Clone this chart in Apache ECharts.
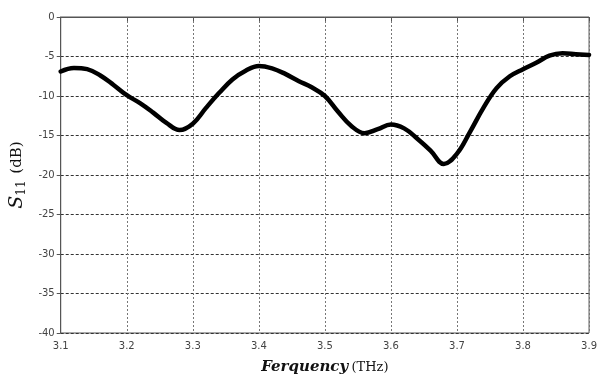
<!DOCTYPE html>
<html>
<head>
<meta charset="utf-8">
<script src="https://cdn.jsdelivr.net/npm/echarts@6/dist/echarts.min.js"></script>
<style>
  html, body { margin: 0; padding: 0; background: #fff; }
  #chart { width: 600px; height: 380px; }
</style>
</head>
<body>
<div id="chart"></div>
<script>
// frequency (THz) and S11 (dB)
const freq = [3.10, 3.12, 3.14, 3.16, 3.18, 3.20, 3.22, 3.24, 3.26, 3.28,
  3.30, 3.32, 3.34, 3.36, 3.38, 3.40, 3.42, 3.44, 3.46, 3.48,
  3.50, 3.52, 3.54, 3.56, 3.58, 3.60, 3.62, 3.64, 3.66, 3.68,
  3.70, 3.72, 3.74, 3.76, 3.78, 3.80, 3.82, 3.84, 3.86, 3.88, 3.90];
const s11 = [-6.9, -6.45, -6.6, -7.4, -8.6, -9.9, -10.9, -12.1, -13.4, -14.3,
  -13.5, -11.5, -9.6, -7.9, -6.8, -6.2, -6.5, -7.2, -8.1, -8.9,
  -10.0, -12.0, -13.8, -14.7, -14.2, -13.6, -14.1, -15.4, -16.9, -18.6,
  -17.3, -14.5, -11.5, -9.0, -7.5, -6.6, -5.8, -4.9, -4.6, -4.7, -4.8];

const yTicks = { min: -40, max: 0, step: 5 };
const xTicks = { min: 3.1, max: 3.9, step: 0.1 };

const chart = echarts.init(document.getElementById("chart"));

const labelFont = {
  color: "#444",
  fontFamily: "DejaVu Sans",
  fontSize: 10,
};

const option = {
  animation: false,
  backgroundColor: "#fff",
  grid: {
    left: 60,
    right: 9,
    top: 17,
    bottom: 43,
    show: true,
    borderColor: "#555",
    borderWidth: 1,
  },
  xAxis: {
    type: "value",
    min: xTicks.min,
    max: xTicks.max,
    interval: xTicks.step,
    name: "{b|Ferquency} {n|(THz)}",
    nameLocation: "middle",
    nameGap: 27,
    nameTextStyle: {
      rich: {
        b: { fontFamily: "DejaVu Serif", fontStyle: "italic", fontWeight: "bold", fontSize: 15, color: "#111" },
        n: { fontFamily: "DejaVu Serif", fontSize: 13, color: "#111" },
      },
    },
    axisLine: { lineStyle: { color: "#555", width: 1 } },
    axisTick: { show: true, length: 4, lineStyle: { color: "#555" } },
    axisLabel: Object.assign({ margin: 8, formatter: (v) => v.toFixed(1) }, labelFont),
    splitLine: { show: true, lineStyle: { color: "#777", type: [2, 2], width: 1 } },
  },
  yAxis: {
    type: "value",
    min: yTicks.min,
    max: yTicks.max,
    interval: yTicks.step,
    name: "{s|S}{sub|11}  {n|(dB)}",
    nameLocation: "middle",
    nameRotate: 90,
    nameGap: 32,
    nameTextStyle: {
      rich: {
        s: { fontFamily: "DejaVu Serif", fontStyle: "italic", fontSize: 19, color: "#111" },
        sub: { fontFamily: "DejaVu Serif", fontSize: 12, color: "#111", verticalAlign: "bottom", padding: [8, 0, 0, 0] },
        n: { fontFamily: "DejaVu Serif", fontSize: 15, color: "#111" },
      },
    },
    axisLine: { show: true, lineStyle: { color: "#555", width: 1 } },
    axisTick: { show: true, length: 4, lineStyle: { color: "#555" } },
    axisLabel: Object.assign({ margin: 6 }, labelFont),
    splitLine: { show: true, lineStyle: { color: "#333", type: [3, 2], width: 1 } },
  },
  series: [
    {
      type: "line",
      data: freq.map((f, i) => [f, s11[i]]),
      smooth: 0.4,
      showSymbol: false,
      lineStyle: { color: "#000", width: 4.5, cap: "round", join: "round" },
    },
  ],
};

chart.setOption(option);
</script>
</body>
</html>
